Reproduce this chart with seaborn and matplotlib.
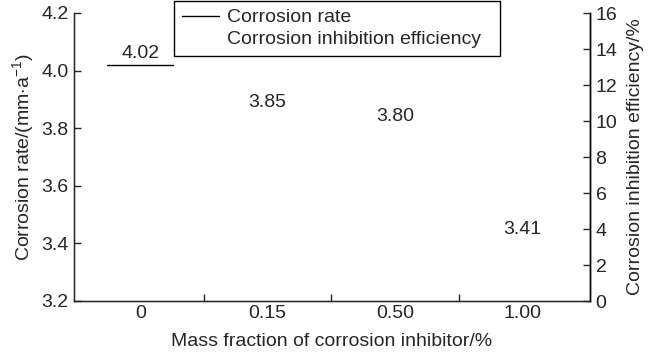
import numpy as np
import pandas as pd
import matplotlib
matplotlib.use('Agg')
import matplotlib.pyplot as plt
import seaborn as sns
from matplotlib.lines import Line2D

# data
categories = ['0', '0.15', '0.50', '1.00']
corrosion_rate = [4.02, 3.85, 3.80, 3.41]
rate_labels = ['4.02', '3.85', '3.80', '3.41']

df = pd.DataFrame({'Mass fraction': categories, 'Corrosion rate': corrosion_rate})

sns.set_style('white')
plt.rcParams['font.family'] = ['Liberation Sans', 'DejaVu Sans']
plt.rcParams['mathtext.fontset'] = 'custom'
plt.rcParams['mathtext.rm'] = 'Liberation Sans'
plt.rcParams['mathtext.it'] = 'Liberation Sans'

fs = 14

fig = plt.figure(figsize=(6.5, 3.57), dpi=100)
ax = fig.add_axes([74 / 650, 1 - 301 / 357, (590 - 74) / 650, (301 - 13) / 357])

# bars are blank in the reference (white fill, no edge)
sns.barplot(data=df, x='Mass fraction', y='Corrosion rate', color='white',
            width=0.52, edgecolor='none', ax=ax)

# only the top edge of the first bar shows
p = ax.patches[0]
ax.plot([p.get_x(), p.get_x() + p.get_width()], [p.get_height()] * 2,
        color='black', lw=1)

for patch, lab in zip(ax.patches, rate_labels):
    ax.annotate(lab, (patch.get_x() + patch.get_width() / 2, patch.get_height()),
                xytext=(0, 2), textcoords='offset points',
                ha='center', va='bottom', fontsize=fs)

ax.set_ylim(3.2, 4.2)
ax.set_yticks(np.arange(3.2, 4.21, 0.2))
ax.set_yticklabels([f'{v:.1f}' for v in np.arange(3.2, 4.21, 0.2)])
ax.set_xlim(-0.52, 3.53)
ax.set_xticks([0.5, 1.5, 2.5], minor=True)
ax.tick_params(axis='x', which='major', length=0, labelsize=fs, pad=3)
ax.tick_params(axis='x', which='minor', length=5, direction='in', width=1,
               bottom=True)
ax.tick_params(axis='y', which='major', length=5, direction='in', width=1,
               labelsize=fs, left=True, pad=4)
ax.set_xlabel('Mass fraction of corrosion inhibitor/%', fontsize=fs, labelpad=8)
ax.set_ylabel(r'Corrosion rate/(mm$\cdot$a$^{-1}$)', fontsize=fs, labelpad=4)

for side in ['left', 'bottom', 'right']:
    ax.spines[side].set_visible(True)
    ax.spines[side].set_color('black')
    ax.spines[side].set_linewidth(1)
ax.spines['top'].set_visible(False)

ax2 = ax.twinx()
ax2.set_ylim(0, 16)
ax2.set_yticks(np.arange(0, 17, 2))
ax2.tick_params(axis='y', length=5, direction='in', width=1, labelsize=fs,
                right=True, pad=4)
ax2.set_ylabel('Corrosion inhibition efficiency/%', fontsize=fs, labelpad=7)
ax2.spines['top'].set_visible(False)
ax2.spines['right'].set_color('black')
ax2.spines['right'].set_linewidth(1)

handles = [Line2D([], [], color='black', lw=1),
           Line2D([], [], color='white', lw=1)]
fig.legend(handles, ['Corrosion rate', 'Corrosion inhibition efficiency'],
           loc='upper left', mode='expand',
           bbox_to_anchor=(174 / 650, 1 - 59 / 357, 326 / 650, 58 / 357),
           bbox_transform=fig.transFigure, borderaxespad=0, fontsize=fs,
           frameon=True, fancybox=False, edgecolor='black', framealpha=1,
           handlelength=1.9, handletextpad=0.45, labelspacing=0.2,
           borderpad=0.4)

fig.savefig('out.png', dpi=100)
